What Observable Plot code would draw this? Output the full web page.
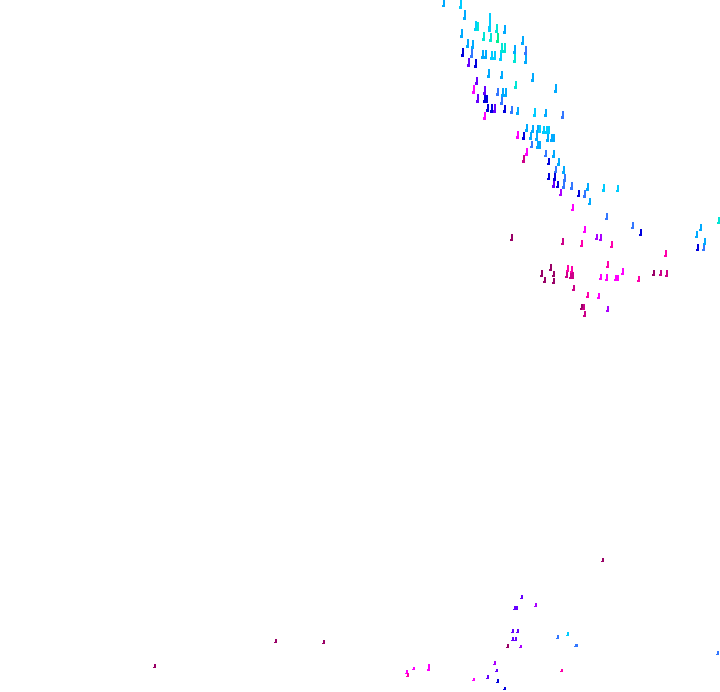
<!DOCTYPE html>
<html>
<head>
<meta charset="utf-8">
<style>html,body{margin:0;padding:0;background:#fff}svg{display:block}</style>
<script src="https://cdn.jsdelivr.net/npm/d3@7"></script>
<script src="https://cdn.jsdelivr.net/npm/@observablehq/plot@0.6"></script>
</head>
<body>
<div id="chart"></div>
<script>
const bandNames = ["sky","cyan","aqua","mint","blue","navy","indigo","purple","magenta","hot","rose","plum"];
const bandColors = ["#00aaff","#00ccff","#00e5d5","#00f090","#3377ff","#0000dd","#6600ff","#aa00ff","#ff00ff","#ff00aa","#cc0088","#990066"];

const xValues = [444.3,460.7,464.7,476,478,490,496.7,505,461.7,484.3,491.3,498.3,468.3,472.7,502,504.5,522.7,515.3,514.7,526,526,463,472.3,483,485.5,492,494.5,501.3,469,476.3,488.7,501.7,532.7,477,516.3,474.3,503,505.5,555.7,485,498.3,501.7,478.3,485,487,492,494.5,488.3,505.3,512,518.3,535.3,546.3,563,485,
527.3,533.3,538,540,544,546.5,549,518.3,524.3,531,536.7,548.3,551.5,554,532,538,540,527,545.7,554,524,548.7,559,556,564,548.7,554.7,565,553.7,558,564,572,588,604,618,561,579,585,590,572.7,607,
719,632.7,641,701,696.7,705,698,704,585,597,601,512,563,582.3,611.7,666,608,551,568,571.7,542,554,567,571,573,623,654,661,667,601,607,616,618,639,545,554,574,588,599,608,581.5,583.5,584.7,
522,536,514.5,516.5,518,513,568.3,558.3,513,515.7,575.5,577,507.7,521.3,495.3,496.7,428.7,414,407,408,562.3,474,488.3,498,505.3,718,276,324,155.3,603];
const yTops = [0,0,10,21,22,13,24,25,29,32,33,33,39,40,43,43,36,45,54,46,55,48,49,50,50,51,51,53,58,59,69,71,73,77,81,85,88,88,84,86,88,96,94,95,95,104,104,104,105,106,107,108,109,111,112,
124,125,125,125,126,126,126,131,132,132,133,133,134,134,141,141,141,148,150,150,155,158,158,166,166,173,173,174,180,181,181,182,183,184,185,189,190,190,198,204,213,
217,222,229,224,231,238,244,245,226,234,234,234,238,240,241,250,261,264,265,266,270,271,272,272,272,268,270,270,270,274,274,275,275,276,277,278,285,292,293,306,304,304,311,
595,603,606,606,629,629,632,635,637,637,644,644,644,645,661,669,664,667,670,673,669,678,675,679,687,651,639,640,664,558];
const yBottoms = [7,9,20,31,31,32,33,34,38,41,42,43,48,49,53,53,45,54,63,55,64,57,58,59,59,60,60,61,67,68,78,79,82,85,89,94,97,97,93,95,96,105,103,103,103,113,113,112,113,114,115,117,117,119,120,
132,133,133,133,134,134,134,139,140,140,141,142,142,142,148,149,149,156,157,158,163,165,166,173,174,180,181,182,188,188,189,190,191,192,192,196,197,198,205,211,220,
224,229,236,231,238,245,251,251,233,240,241,241,245,247,248,257,268,271,272,273,277,277,278,279,279,275,276,276,277,280,281,281,281,282,283,284,291,298,299,312,310,310,317,
599,607,610,610,633,633,636,639,641,641,647,647,648,648,665,672,671,670,674,677,672,681,679,683,690,655,643,644,668,562];
const bands = [0,1,0,1,2,1,2,0,0,2,2,3,0,0,2,2,0,0,2,4,0,5,4,0,0,1,1,1,6,5,0,0,0,6,2,8,0,0,0,6,4,4,6,5,5,5,6,5,5,4,0,1,0,4,8,
0,0,0,1,1,1,1,8,5,0,0,0,0,0,4,0,0,8,4,0,10,5,0,4,0,5,5,4,6,5,4,4,0,1,1,7,5,4,0,8,4,
2,4,5,0,0,0,5,4,8,7,7,11,10,9,9,9,9,11,9,9,11,11,10,10,10,8,11,10,10,8,8,8,8,9,11,11,10,9,8,7,11,10,10,
6,7,6,6,6,6,1,4,6,6,4,4,11,7,7,6,8,8,8,9,9,8,6,5,5,4,11,11,11,11];

const rows = xValues.map((x, i) => ({x, top: yTops[i], bottom: yBottoms[i], band: bandNames[bands[i]]}));

const chart = Plot.plot({
  width: 720,
  height: 692,
  margin: 0,
  x: {domain: [0, 720], range: [0, 720], axis: null},
  y: {domain: [0, 692], range: [0, 692], axis: null},
  color: {domain: bandNames, range: bandColors},
  marks: [
    Plot.ruleX(rows, {
      x: "x",
      y1: "top",
      y2: "bottom",
      stroke: "band",
      strokeWidth: 2,
      dx: -0.5,
      shapeRendering: "crispEdges"
    }),
    Plot.ruleX(rows, {
      x: "x",
      y1: d => d.bottom - (d.bottom - d.top) / 3,
      y2: "bottom",
      stroke: "band",
      strokeWidth: 2,
      dx: -1.5,
      shapeRendering: "crispEdges"
    })
  ]
});
document.getElementById("chart").append(chart);
</script>
</body>
</html>
